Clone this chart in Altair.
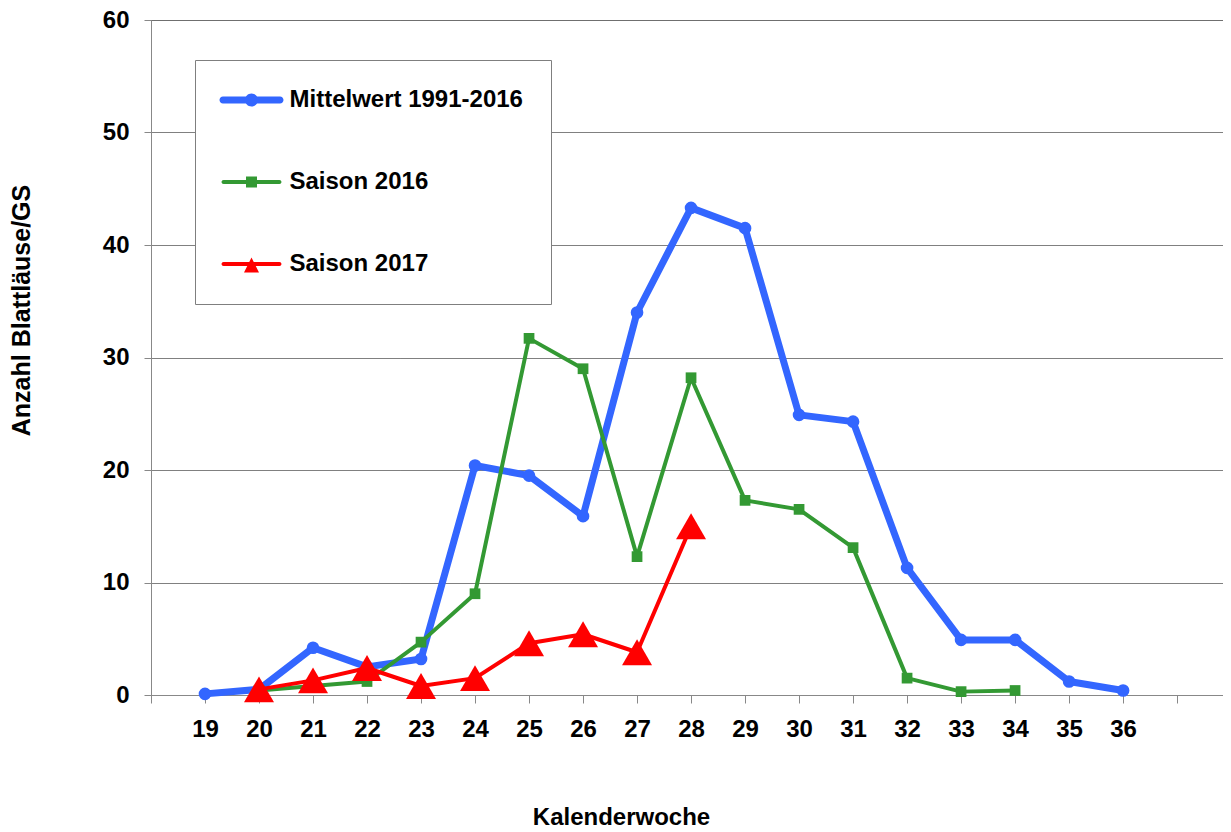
import altair as alt
import pandas as pd

# ---- data ----
series_names = ["Mittelwert 1991-2016", "Saison 2016", "Saison 2017"]

weeks_mean = list(range(19, 37))
vals_mean = [0.1, 0.5, 4.2, 2.5, 3.2, 20.4, 19.5, 15.9, 34.0, 43.3, 41.5, 24.9, 24.3, 11.3, 4.9, 4.9, 1.2, 0.4]

weeks_2016 = list(range(20, 35))
vals_2016 = [0.4, 0.8, 1.2, 4.7, 9.0, 31.7, 29.0, 12.3, 28.2, 17.3, 16.5, 13.1, 1.5, 0.3, 0.4]

weeks_2017 = list(range(20, 29))
vals_2017 = [0.5, 1.3, 2.4, 0.8, 1.5, 4.6, 5.4, 3.8, 15.0]

x_tick_values = list(range(18, 38))
y_tick_values = [0, 10, 20, 30, 40, 50, 60]

rows = []
for name, wks, vals in zip(series_names, [weeks_mean, weeks_2016, weeks_2017], [vals_mean, vals_2016, vals_2017]):
    for w, v in zip(wks, vals):
        rows.append({"week": w, "value": v, "series": name})
df = pd.DataFrame(rows)

# ---- styles ----
FONT = "Liberation Sans"
BLUE = "#3366FF"
GREEN = "#339933"
RED = "#FF0000"
colors = [BLUE, GREEN, RED]

# legend symbols: symbolSize 576 -> 1 path unit = 12 px
path_blue = ("M-2.375,-0.292 L2.375,-0.292 A0.292,0.292 0 0,1 2.375,0.292 L-2.375,0.292 "
             "A0.292,0.292 0 0,1 -2.375,-0.292 Z "
             "M-0.542,0 A0.542,0.542 0 1,1 0.542,0 A0.542,0.542 0 1,1 -0.542,0 Z")
path_green = ("M-2.33,-0.167 L2.33,-0.167 A0.167,0.167 0 0,1 2.33,0.167 L-2.33,0.167 "
              "A0.167,0.167 0 0,1 -2.33,-0.167 Z "
              "M-0.458,-0.458 L0.458,-0.458 L0.458,0.458 L-0.458,0.458 Z")
path_red = ("M-2.33,-0.167 L2.33,-0.167 A0.167,0.167 0 0,1 2.33,0.167 L-2.33,0.167 "
            "A0.167,0.167 0 0,1 -2.33,-0.167 Z "
            "M0,-0.55 L0.625,0.7 L-0.625,0.7 Z")
legend_paths = [path_blue, path_green, path_red]

x_enc = alt.X(
    "week:Q",
    scale=alt.Scale(domain=[18, 37.85], nice=False, zero=False),
    axis=alt.Axis(
        values=x_tick_values,
        labelExpr="datum.value >= 19 && datum.value <= 36 ? datum.label : ''",
        title="Kalenderwoche",
        grid=False,
        tickSize=8,
        labelPadding=14,
        labelFontSize=24,
        labelFontWeight="bold",
        titleFontSize=24,
        titleFontWeight="bold",
        titleX=470,
        titleY=122,
        titleAlign="center",
        titleBaseline="middle",
    ),
)
y_enc = alt.Y(
    "value:Q",
    scale=alt.Scale(domain=[0, 60], nice=False),
    axis=alt.Axis(
        values=y_tick_values,
        title="Anzahl Blattläuse/GS",
        grid=True,
        gridDash=[1, 1],
        gridColor="black",
        gridWidth=1,
        tickSize=7,
        labelPadding=15,
        labelFontSize=24,
        labelFontWeight="bold",
        titleFontSize=25,
        titleFontWeight="bold",
        titleAngle=270,
        titleX=-130,
        titleY=290,
        titleAlign="center",
        titleBaseline="middle",
    ),
)

base = alt.Chart(df)


def series_layer(name, color, width, shape, size):
    return (
        base.transform_filter(alt.datum.series == name)
        .mark_line(
            color=color,
            strokeWidth=width,
            strokeJoin="round",
            point=alt.OverlayMarkDef(shape=shape, size=size, filled=True, color=color, opacity=1),
        )
        .encode(x=x_enc, y=y_enc)
    )


layer_mean = series_layer(series_names[0], BLUE, 7, "circle", 160)
layer_2016 = series_layer(series_names[1], GREEN, 4, "square", 115)
layer_2017 = series_layer(series_names[2], RED, 4, "triangle-up", 900)

leg = alt.Legend(
    orient="none",
    legendX=44,
    legendY=40,
    title=None,
    direction="vertical",
    labelFont=FONT,
    labelFontSize=24,
    labelFontWeight="bold",
    labelColor="black",
    labelLimit=0,
    labelOffset=26,
    symbolSize=576,
    symbolOffset=16.5,
    symbolStrokeWidth=0,
    symbolOpacity=1,
    strokeColor="#7f7f7f",
    fillColor="white",
    padding=28,
    rowPadding=58,
)

legend_layer = (
    base.transform_filter("false")
    .mark_point(filled=True, opacity=1)
    .encode(
        shape=alt.Shape("series:N", scale=alt.Scale(domain=series_names, range=legend_paths), legend=leg),
        fill=alt.Fill("series:N", scale=alt.Scale(domain=series_names, range=colors), legend=leg),
    )
)

chart = (
    alt.layer(layer_mean, layer_2016, layer_2017, legend_layer)
    .properties(
        width=1072,
        height=675,
        autosize=alt.AutoSizeParams(type="none"),
        padding={"left": 143, "top": 12, "right": 0, "bottom": 137},
    )
    .configure_view(stroke=None)
    .configure_axis(
        labelFont=FONT,
        titleFont=FONT,
        labelColor="black",
        titleColor="black",
        domainColor="black",
        tickColor="black",
        domainWidth=1,
        tickWidth=1,
    )
    .configure(background="white")
)

chart.save("out.html", embed_options={"renderer": "svg", "actions": False})
